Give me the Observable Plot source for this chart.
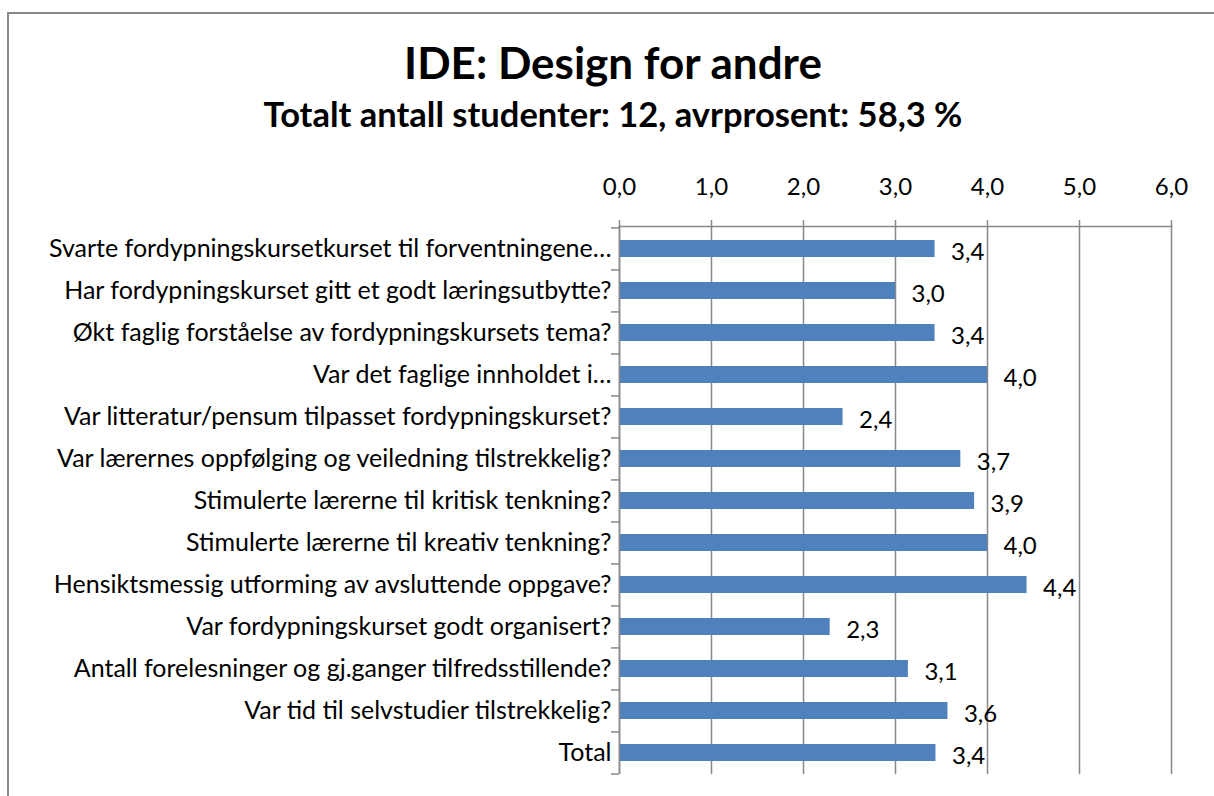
<!DOCTYPE html>
<html><head><meta charset="utf-8">
<script src="https://cdn.jsdelivr.net/npm/d3@7"></script>
<script src="https://cdn.jsdelivr.net/npm/@observablehq/plot@0.6"></script>
<style>
html,body{margin:0;padding:0;background:#fff;overflow:hidden;width:1214px;height:796px}
#wrap{position:relative;width:1214px;height:796px}
#border{position:absolute;left:7px;top:12px;width:1300px;height:900px;border-left:2px solid #898989;border-top:2px solid #898989;pointer-events:none}
svg{position:absolute;left:0;top:0}
</style></head><body><div id="wrap"><div id="border"></div></div>
<script>
const questions = [
  "Svarte fordypningskursetkurset til forventningene…",
  "Har fordypningskurset gitt et godt læringsutbytte?",
  "Økt faglig forståelse av fordypningskursets tema?",
  "Var det faglige innholdet i…",
  "Var litteratur/pensum tilpasset fordypningskurset?",
  "Var lærernes oppfølging og veiledning tilstrekkelig?",
  "Stimulerte lærerne til kritisk tenkning?",
  "Stimulerte lærerne til kreativ tenkning?",
  "Hensiktsmessig utforming av avsluttende oppgave?",
  "Var fordypningskurset godt organisert?",
  "Antall forelesninger og gj.ganger tilfredsstillende?",
  "Var tid til selvstudier tilstrekkelig?",
  "Total"
];
const scores = [3.43, 3.0, 3.43, 4.0, 2.43, 3.71, 3.86, 4.0, 4.43, 2.29, 3.14, 3.57, 3.44];
const xTicks = [0, 1, 2, 3, 4, 5, 6];
const titleText = "IDE: Design for andre";
const subtitleText = "Totalt antall studenter: 12, avrprosent: 58,3 %";

const data = questions.map((q, i) => ({q, v: scores[i]}));
const fmt = d => d3.format(".1f")(d).replace(".", ",");
const W = 1214, H = 796, mL = 619, mR = 43, mT = 226, mB = 22;
const step = (H - mT - mB) / questions.length;
const grey = "#898989";
const font = "Lato, sans-serif";

const chart = Plot.plot({
  width: W, height: H,
  marginLeft: mL, marginRight: mR, marginTop: mT, marginBottom: mB,
  style: {fontFamily: font, fontSize: "24px", color: "#000", background: "transparent", overflow: "visible"},
  x: {domain: [0, 6], label: null, axis: null},
  y: {domain: questions, paddingInner: 0.6, paddingOuter: 0.3, label: null, axis: null},
  marks: [
    Plot.gridX(xTicks, {stroke: grey, strokeOpacity: 1, strokeWidth: 1.5}),
    Plot.axisX(xTicks, {anchor: "top", tickFormat: fmt, tickSize: 7, tickPadding: 25, stroke: grey, strokeWidth: 1.5, fill: "#000", fontSize: 24, label: null}),
    Plot.barX(data, {x: "v", y: "q", fill: "#4F81BD"}),
    Plot.ruleX([0], {stroke: grey, strokeWidth: 1.5}),
    Plot.frame({anchor: "top", stroke: grey, strokeWidth: 1.5}),
    Plot.axisY({anchor: "left", tickSize: 0, tickPadding: 8, fill: "#000", fontSize: 25, label: null}),
    Plot.axisY({anchor: "left", tickSize: 8, tickFormat: () => "", dy: -step / 2, stroke: grey, strokeWidth: 1.5, label: null}),
    Plot.axisY([questions[questions.length - 1]], {anchor: "left", tickSize: 8, tickFormat: () => "", dy: step / 2, stroke: grey, strokeWidth: 1.5, label: null}),
    Plot.text(data, {x: "v", y: "q", text: d => fmt(d.v), textAnchor: "start", dx: 16, dy: 3, fontSize: 24, fill: "#000"})
  ]
});
document.getElementById("wrap").appendChild(chart);
const svg = d3.select(chart);
svg.append("text").attr("x", 613).attr("y", 79).attr("text-anchor", "middle")
  .attr("font-family", font).attr("font-weight", "bold").attr("font-size", 44).attr("fill", "#000").text(titleText);
svg.append("text").attr("x", 613).attr("y", 127).attr("text-anchor", "middle")
  .attr("font-family", font).attr("font-weight", "bold").attr("font-size", 34.5).attr("fill", "#000").text(subtitleText);
</script></body></html>
